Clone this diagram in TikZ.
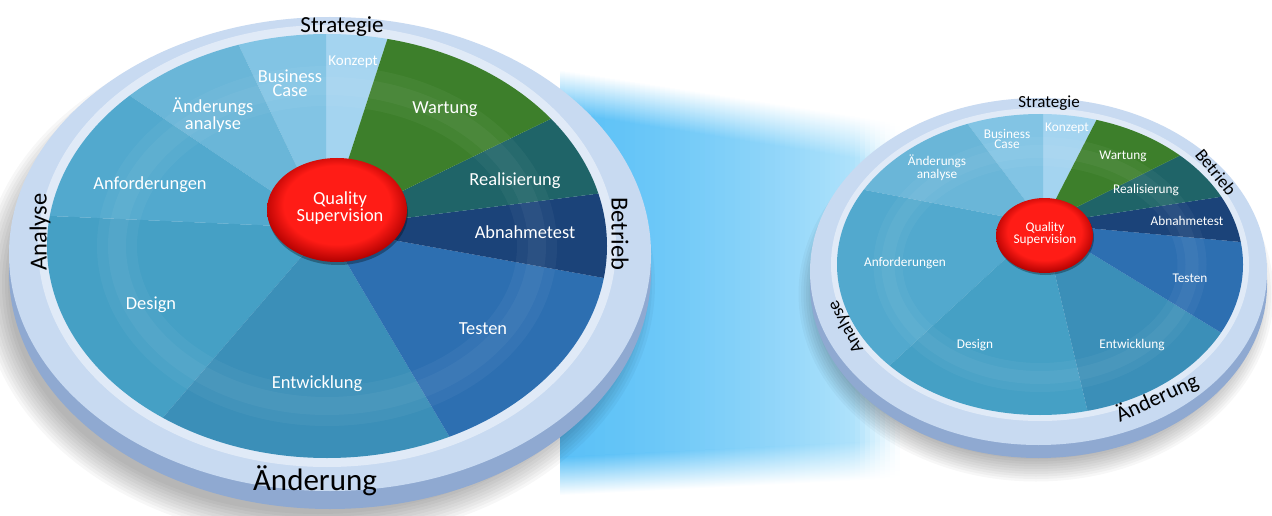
\documentclass[tikz,border=0pt]{standalone}
\usepackage{fontspec}
\newfontfamily\calib{Carlito}

\definecolor{konzept}{RGB}{164,212,240}
\definecolor{business}{RGB}{130,196,228}
\definecolor{aenderungsanalyse}{RGB}{106,182,216}
\definecolor{anforderungen}{RGB}{82,169,206}
\definecolor{design}{RGB}{69,160,197}
\definecolor{entwicklung}{RGB}{59,143,184}
\definecolor{testen}{RGB}{45,111,177}
\definecolor{abnahmetest}{RGB}{27,67,121}
\definecolor{realisierung}{RGB}{31,100,104}
\definecolor{wartung}{RGB}{61,127,43}
\definecolor{ringface}{RGB}{200,218,241}
\definecolor{ringside}{RGB}{143,169,209}
\definecolor{beamleft}{RGB}{92,193,247}
\definecolor{beamright}{RGB}{195,234,252}
\definecolor{btnlight}{RGB}{255,28,22}
\definecolor{btndark}{RGB}{175,0,0}
\pgfdeclareradialshading{button}{\pgfpoint{0bp}{4bp}}{color(0bp)=(btnlight); color(19bp)=(btnlight); color(27bp)=(btndark); color(50bp)=(btndark)}

\begin{document}
\begin{tikzpicture}
  [x=1pt, y=1pt,
  seglabel/.style={text=white, inner sep=0pt, align=center, font=\calib\fontsize{18.4}{13.5}\selectfont},
  smallseg/.style={seglabel, font=\calib\fontsize{13.3}{10}\selectfont},
  ringlabel/.style={text=black, inner sep=0pt, font=\calib\fontsize{#1}{#1}\selectfont},
  redbutton/.style={shading=button},
  glass/.style={white, opacity=.04}
  ]
  \useasboundingbox (0,0) rectangle (1272,-516);
  \fill[white] (0,0) rectangle (1272,-516);

  % light beam between the two wheels, in thin slices
  \foreach \i in {0,...,68} {
    \pgfmathsetmacro{\t}{\i/68}
    \pgfmathsetmacro{\xa}{560+5*\i}
    \pgfmathsetmacro{\xb}{\xa+5.6}
    \pgfmathtruncatemacro{\p}{100*\t^1.4}
    \pgfmathtruncatemacro{\w}{max(0,min(100,(\t-0.86)/0.14*100))}
    \pgfmathsetmacro{\yt}{-112-53*\t}
    \pgfmathsetmacro{\yb}{-457+17*\t}
    \colorlet{beamc}{beamright!\p!beamleft}
    \colorlet{beamc}{white!\w!beamc}
    \fill[beamc] (\xa,\yt) rectangle (\xb,\yb);
    \shade[top color=white, bottom color=beamc] (\xa,\yt+42) rectangle (\xb,\yt);
    \shade[top color=beamc, bottom color=white] (\xa,\yb) rectangle (\xb,\yb-38);
  }

  % big wheel
  \coordinate (bigring) at (330,-254);
  \coordinate (bigpie) at (327,-246);
  \coordinate (bigC) at (326,-228);
  \coordinate (bigbtn) at (337,-210);
  \foreach \r in {0,...,9}
    \fill[black, opacity=.03] (318,-284) ellipse [x radius=310+3*\r, y radius=230+3*\r];
  \fill[ringside] ([yshift=-18]bigring) ellipse [x radius=321, y radius=237];
  \fill[ringface] (bigring) ellipse [x radius=321, y radius=237];
  \fill[white, opacity=.45] (bigpie) ellipse [x radius=289, y radius=221];
  \begin{scope}
    \clip (bigpie) ellipse [x radius=280, y radius=212];
    \foreach \a/\b/\c in {72/90/konzept, 90/115.5/business, 115.5/146/aenderungsanalyse,
      146/177.5/anforderungen, 177.5/229.3/design, 229.3/300.6/entwicklung, 300.6/349.8/testen,
      349.8/367.2/abnahmetest, 7.2/25.9/realisierung, 25.9/72/wartung}
      \fill[\c] (bigC) -- ++(\a:400) arc[start angle=\a, end angle=\b, radius=400] -- cycle;
    \draw[glass, line width=40] (bigpie) ellipse [x radius=210, y radius=160];
    \draw[glass, line width=18] (bigpie) ellipse [x radius=210, y radius=160];
  \end{scope}
  \fill[black, opacity=.3] ([shift={(1,-3)}]bigbtn) ellipse [x radius=70, y radius=52];
  \shade[redbutton] (bigbtn) ellipse [x radius=70, y radius=52];

  \node[seglabel, font=\calib\fontsize{15}{12}\selectfont] (bigkonzept) at (353,-62) {Konzept};
  \node[seglabel] (bigbusiness) at (290,-83) {Business\\Case};
  \node[seglabel] (bigaenderungsanalyse) at (213,-115) {Änderungs\\analyse};
  \node[seglabel] (biganforderungen) at (150,-185) {Anforderungen};
  \node[seglabel] (bigdesign) at (151,-305) {Design};
  \node[seglabel] (bigentwicklung) at (317,-384) {Entwicklung};
  \node[seglabel] (bigtesten) at (483,-329) {Testen};
  \node[seglabel] (bigabnahmetest) at (525,-232) {Abnahmetest};
  \node[seglabel] (bigrealisierung) at (515,-181) {Realisierung};
  \node[seglabel] (bigwartung) at (445,-109) {Wartung};
  \node[seglabel] (bigquality) at (340,-208) {Quality\\Supervision};

  \node[ringlabel=23] (bigstrategie) at (342,-27) {Strategie};
  \node[ringlabel=24.5, rotate=90] (biganalyse) at (40,-232) {Analyse};
  \node[ringlabel=24.5, rotate=-90] (bigbetrieb) at (620,-234) {Betrieb};
  \node[ringlabel=31] (bigaenderung) at (315,-481) {Änderung};

  % small wheel
  \coordinate (smallring) at (1038.5,-271.5);
  \coordinate (smallpie) at (1040,-264.5);
  \coordinate (smallC) at (1043,-224);
  \coordinate (smallbtn) at (1044.5,-235.5);
  \foreach \r in {0,...,9}
    \fill[black, opacity=.03] (1036,-294) ellipse [x radius=215+2.5*\r, y radius=165+2.5*\r];
  \fill[ringside] ([yshift=-13]smallring) ellipse [x radius=228.5, y radius=173.5];
  \fill[ringface] (smallring) ellipse [x radius=228.5, y radius=173.5];
  \fill[white, opacity=.45] (smallpie) ellipse [x radius=209, y radius=156.5];
  \begin{scope}
    \clip (smallpie) ellipse [x radius=203, y radius=150.5];
    \foreach \a/\b/\c in {62.8/90/konzept, 90/127/business, 127/169.2/aenderungsanalyse,
      169.2/222.7/anforderungen, 222.7/283.4/design, 283.4/328.6/entwicklung, 328.6/354.8/testen,
      354.8/368.7/abnahmetest, 8.7/26.6/realisierung, 26.6/62.8/wartung}
      \fill[\c] (smallC) -- ++(\a:300) arc[start angle=\a, end angle=\b, radius=300] -- cycle;
    \draw[glass, line width=29] (smallpie) ellipse [x radius=152, y radius=113];
    \draw[glass, line width=13] (smallpie) ellipse [x radius=152, y radius=113];
  \end{scope}
  \fill[black, opacity=.3] ([shift={(1,-2)}]smallbtn) ellipse [x radius=48.5, y radius=37.5];
  \shade[redbutton] (smallbtn) ellipse [x radius=48.5, y radius=37.5];

  \node[smallseg] (smallkonzept) at (1067,-128) {Konzept};
  \node[smallseg] (smallbusiness) at (1007,-139) {Business\\Case};
  \node[smallseg] (smallaenderungsanalyse) at (937,-168) {Änderungs\\analyse};
  \node[smallseg] (smallanforderungen) at (905,-263) {Anforderungen};
  \node[smallseg] (smalldesign) at (975,-345) {Design};
  \node[smallseg] (smallentwicklung) at (1132,-345) {Entwicklung};
  \node[smallseg] (smalltesten) at (1190,-278) {Testen};
  \node[smallseg] (smallabnahmetest) at (1187,-221) {Abnahmetest};
  \node[smallseg] (smallrealisierung) at (1146,-190) {Realisierung};
  \node[smallseg] (smallwartung) at (1123,-156) {Wartung};
  \node[smallseg] (smallquality) at (1045,-234) {Quality\\Supervision};

  \node[ringlabel=17] (smallstrategie) at (1049,-103) {Strategie};
  \node[ringlabel=18, rotate=-51] (smallbetrieb) at (1216,-172) {Betrieb};
  \node[ringlabel=18, rotate=118] (smallanalyse) at (846,-327) {Analyse};
  \node[ringlabel=22, rotate=24.5] (smallaenderung) at (1157,-398) {Änderung};
\end{tikzpicture}
\end{document}
